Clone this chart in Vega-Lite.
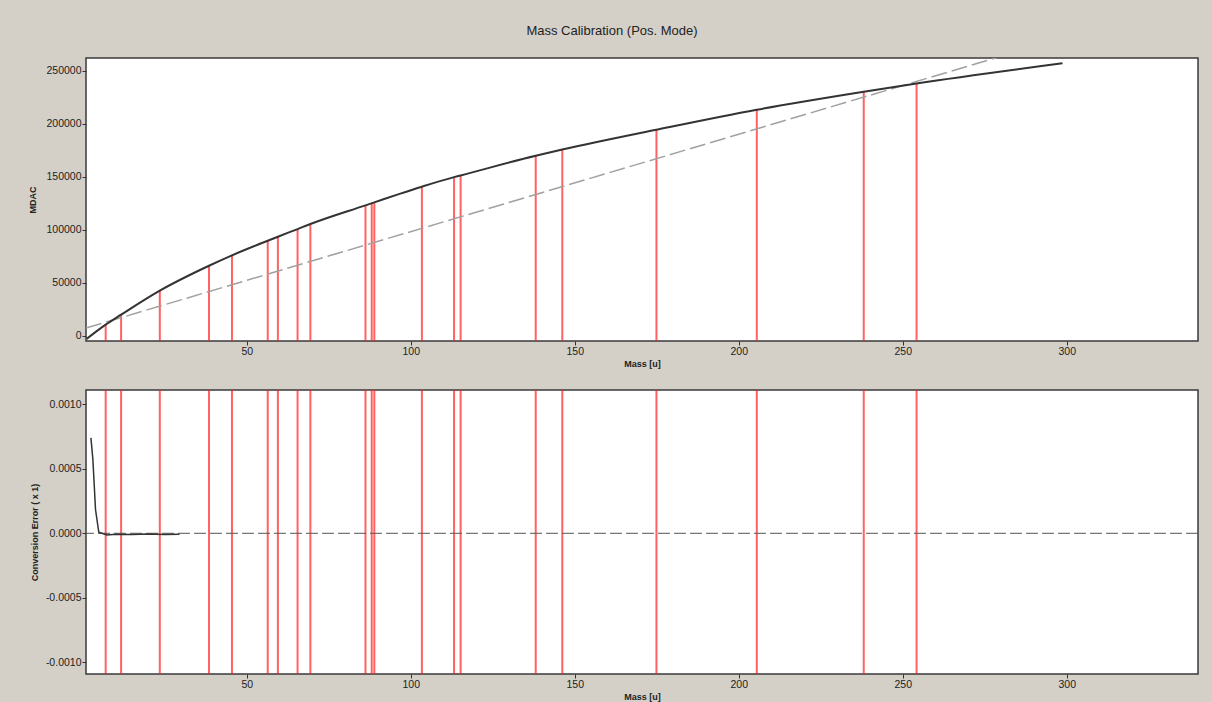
{
  "$schema": "https://vega.github.io/schema/vega-lite/v6.json",
  "background": "#d4d0c8",
  "padding": {"left": 28, "top": 24, "right": 14, "bottom": 0},
  "spacing": 49,
  "bounds": "flush",
  "datasets": {
    "peaks": [
      {"mass": 7.0, "mdac": 10400},
      {"mass": 11.7, "mdac": 19800},
      {"mass": 23.5, "mdac": 42500},
      {"mass": 38.5, "mdac": 66000},
      {"mass": 45.5, "mdac": 75800},
      {"mass": 56.4, "mdac": 89600},
      {"mass": 59.5, "mdac": 93400},
      {"mass": 65.5, "mdac": 100600},
      {"mass": 69.4, "mdac": 105400},
      {"mass": 86.2, "mdac": 123000},
      {"mass": 88.1, "mdac": 125000},
      {"mass": 88.9, "mdac": 125800},
      {"mass": 103.4, "mdac": 140600},
      {"mass": 113.2, "mdac": 149600},
      {"mass": 115.2, "mdac": 151200},
      {"mass": 138.1, "mdac": 169800},
      {"mass": 146.2, "mdac": 175600},
      {"mass": 174.9, "mdac": 194300},
      {"mass": 205.5, "mdac": 213200},
      {"mass": 238.1, "mdac": 230200},
      {"mass": 254.2, "mdac": 238000}
    ],
    "curve": [
      {"mass": 1.2, "mdac": -3000},
      {"mass": 7.0, "mdac": 10400},
      {"mass": 11.7, "mdac": 19800},
      {"mass": 23.5, "mdac": 42500},
      {"mass": 38.5, "mdac": 66000},
      {"mass": 45.5, "mdac": 75800},
      {"mass": 56.4, "mdac": 89600},
      {"mass": 59.5, "mdac": 93400},
      {"mass": 65.5, "mdac": 100600},
      {"mass": 69.4, "mdac": 105400},
      {"mass": 86.2, "mdac": 123000},
      {"mass": 88.9, "mdac": 125800},
      {"mass": 96.6, "mdac": 133800},
      {"mass": 103.4, "mdac": 140600},
      {"mass": 113.2, "mdac": 149600},
      {"mass": 115.2, "mdac": 151200},
      {"mass": 138.1, "mdac": 169800},
      {"mass": 146.2, "mdac": 175600},
      {"mass": 174.9, "mdac": 194300},
      {"mass": 205.5, "mdac": 213200},
      {"mass": 238.1, "mdac": 230200},
      {"mass": 254.2, "mdac": 238000},
      {"mass": 298.7, "mdac": 257000}
    ],
    "linear": [
      {"mass": 1.0, "mdac": 7200},
      {"mass": 300.0, "mdac": 282000}
    ],
    "error": [
      {"mass": 2.5, "err": 0.000739},
      {"mass": 3.1, "err": 0.000571},
      {"mass": 3.9, "err": 0.000184},
      {"mass": 4.9, "err": 0.000008},
      {"mass": 7.4, "err": -0.000013},
      {"mass": 10.0, "err": -0.000008},
      {"mass": 15.0, "err": -0.00001},
      {"mass": 20.0, "err": -0.000005},
      {"mass": 25.0, "err": -0.00001},
      {"mass": 29.5, "err": -0.000008}
    ],
    "zero": [{"err": 0}]
  },
  "config": {
    "view": {"fill": "white", "stroke": "#3a3a3a", "strokeWidth": 1.5},
    "axis": {
      "domain": false,
      "grid": false,
      "labelFont": "Liberation Sans",
      "labelFontSize": 10.5,
      "labelColor": "#222222",
      "tickColor": "#333333",
      "tickSize": 4,
      "labelPadding": 1,
      "titleFont": "Liberation Sans",
      "titleFontSize": 9,
      "titleFontWeight": "bold",
      "titleColor": "#222222"
    }
  },
  "vconcat": [
    {
      "width": 1112,
      "height": 283,
      "title": {
        "text": "Mass Calibration (Pos. Mode)",
        "anchor": "middle",
        "dx": -30,
        "offset": 20,
        "fontSize": 13,
        "font": "Liberation Sans",
        "fontWeight": "normal",
        "color": "#222222"
      },
      "layer": [
        {
          "data": {"name": "peaks"},
          "mark": {"type": "rule", "color": "#ff2020", "strokeWidth": 2, "opacity": 0.7},
          "encoding": {
            "x": {"field": "mass", "type": "quantitative", "scale": {"domain": [1, 340], "nice": false, "zero": false},
                  "axis": {"values": [50, 100, 150, 200, 250, 300], "title": "Mass [u]", "titlePadding": 3}},
            "y": {"field": "mdac", "type": "quantitative", "scale": {"domain": [-5000, 262000], "nice": false, "zero": false},
                  "axis": {"values": [0, 50000, 100000, 150000, 200000, 250000], "format": "d", "title": "MDAC", "titlePadding": 8}},
            "y2": {"datum": -5000}
          }
        },
        {
          "data": {"name": "linear"},
          "mark": {"type": "line", "color": "#a0a0a0", "strokeWidth": 1.5, "strokeDash": [16, 5], "clip": true},
          "encoding": {
            "x": {"field": "mass", "type": "quantitative"},
            "y": {"field": "mdac", "type": "quantitative"}
          }
        },
        {
          "data": {"name": "curve"},
          "mark": {"type": "line", "color": "#333333", "strokeWidth": 2, "interpolate": "monotone", "clip": true},
          "encoding": {
            "x": {"field": "mass", "type": "quantitative"},
            "y": {"field": "mdac", "type": "quantitative"}
          }
        }
      ]
    },
    {
      "width": 1112,
      "height": 284,
      "layer": [
        {
          "data": {"name": "peaks"},
          "mark": {"type": "rule", "color": "#ff2020", "strokeWidth": 2, "opacity": 0.7},
          "encoding": {
            "x": {"field": "mass", "type": "quantitative", "scale": {"domain": [1, 340], "nice": false, "zero": false},
                  "axis": {"values": [50, 100, 150, 200, 250, 300], "title": "Mass [u]", "titlePadding": 3}}
          }
        },
        {
          "data": {"name": "zero"},
          "mark": {"type": "rule", "color": "#555555", "strokeWidth": 1, "strokeDash": [12, 4]},
          "encoding": {
            "y": {"field": "err", "type": "quantitative", "scale": {"domain": [-0.00109, 0.00111], "nice": false, "zero": false},
                  "axis": {"values": [-0.001, -0.0005, 0, 0.0005, 0.001], "title": "Conversion Error ( x 1)", "titlePadding": 6,
                           "labelExpr": "datum.value < 0 ? '-' + format(-datum.value, '.4f') : format(datum.value, '.4f')"}}
          }
        },
        {
          "data": {"name": "error"},
          "mark": {"type": "line", "color": "#333333", "strokeWidth": 1.5},
          "encoding": {
            "x": {"field": "mass", "type": "quantitative"},
            "y": {"field": "err", "type": "quantitative"}
          }
        }
      ]
    }
  ]
}
